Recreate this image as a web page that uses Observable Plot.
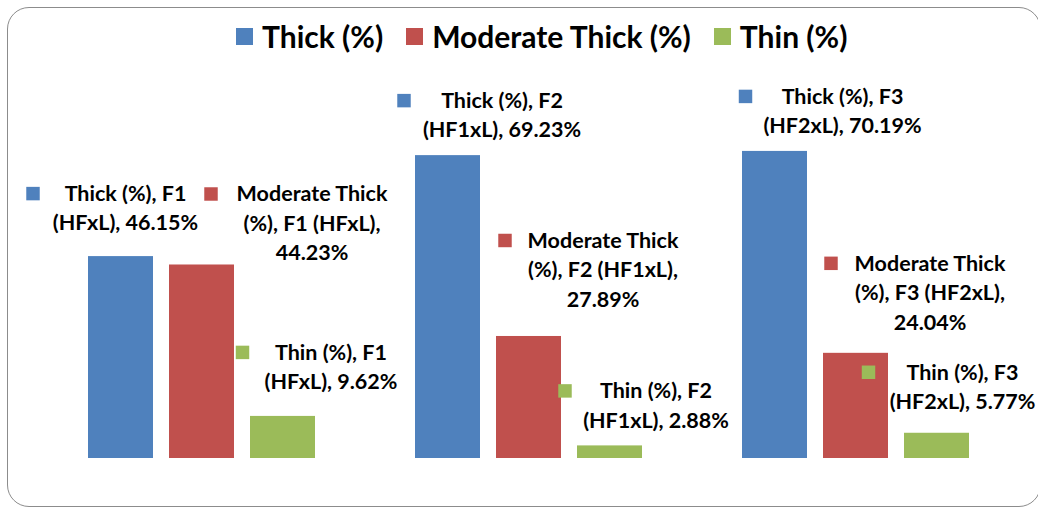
<!DOCTYPE html>
<html><head><meta charset="utf-8">
<script src="https://cdn.jsdelivr.net/npm/d3@7"></script>
<script src="https://cdn.jsdelivr.net/npm/@observablehq/plot@0.6"></script>
<style>
body{margin:0;background:#fff;}
#wrap{position:relative;width:1038px;height:508px;overflow:hidden;font-family:Lato,"Open Sans",sans-serif;}
#border{position:absolute;left:7px;top:7px;width:1034px;height:500px;border:1.5px solid #8c8c8c;border-radius:22px;box-sizing:border-box;pointer-events:none;}
#legend{height:70px;display:flex;align-items:flex-start;padding-left:236px;box-sizing:border-box;}
#legend .item{display:flex;align-items:center;margin-right:23px;margin-top:19px;font-weight:700;font-size:30px;color:#000;line-height:34px;}
#legend .sw{width:17px;height:17px;margin-right:9px;}
#chart svg{display:block;}
</style></head>
<body>
<div id="wrap">
  <div id="border"></div>
  <div id="legend"></div>
  <div id="chart"></div>
</div>
<script>
const groups = ["F1 (HFxL)", "F2 (HF1xL)", "F3 (HF2xL)"];
const series = ["Thick (%)", "Moderate Thick (%)", "Thin (%)"];
const thick = [46.15, 69.23, 70.19];
const moderate = [44.23, 27.89, 24.04];
const thin = [9.62, 2.88, 5.77];
const colors = ["#4F81BD", "#C0504D", "#9BBB59"];
// label placement (px) relative to each bar's top centre: [textDx, firstLineDy, keyDx]
const labelLayout = [
  [[4.5, -63, -88], [110, -71, 9], [48, -64, -40.5]],
  [[54, -55, -44], [74, -96, -24], [46, -55, -45]],
  [[67.5, -55, -29.5], [74, -90, -25], [25.5, -61, -68.5]]
];

const valuesBySeries = [thick, moderate, thin];
const data = [];
groups.forEach((g, gi) => series.forEach((s, si) => {
  data.push({group: g, series: s, value: valuesBySeries[si][gi], layout: labelLayout[gi][si]});
}));

function labelText(s, g, v) {
  const [code, cross] = g.split(" ");
  const val = v.toFixed(2) + "%";
  if (s.startsWith("Moderate")) return `Moderate Thick\n(%), ${code} ${cross},\n${val}`;
  return `${s}, ${code}\n${cross}, ${val}`;
}

// legend
const legend = document.getElementById("legend");
series.forEach((s, i) => {
  const it = document.createElement("div");
  it.className = "item";
  it.innerHTML = `<span class="sw" style="background:${colors[i]}"></span><span>${s}</span>`;
  legend.appendChild(it);
});

const fontSize = 21.5;
const labelMarks = [];
data.forEach(d => {
  const [tdx, tdy, kdx] = d.layout;
  labelMarks.push(Plot.text([d], {
    fx: "group", x: "series", y: "value",
    text: r => labelText(r.series, r.group, r.value),
    dx: tdx, dy: tdy - 13.5,
    lineAnchor: "top", lineHeight: 1.37, textAnchor: "middle",
    fontSize, fontWeight: "bold", fontFamily: "Lato, 'Open Sans', sans-serif", fill: "#000"
  }));
  labelMarks.push(Plot.dot([d], {
    fx: "group", x: "series", y: "value",
    dx: kdx, dy: tdy, symbol: "square", r: 7.6, fill: "series", stroke: null
  }));
});

const chart = Plot.plot({
  width: 1038, height: 438,
  marginLeft: 86, marginRight: 68, marginTop: 38, marginBottom: 50,
  fx: {domain: groups, paddingInner: 0.3, paddingOuter: 0, axis: null, label: null},
  x: {domain: series, paddingInner: 0.2, paddingOuter: 0, axis: null},
  y: {domain: [0, 80], axis: null},
  color: {domain: series, range: colors},
  style: {background: "transparent", overflow: "visible"},
  marks: [
    Plot.barY(data, {fx: "group", x: "series", y: "value", fill: "series"}),
    ...labelMarks
  ]
});
document.getElementById("chart").appendChild(chart);
</script>
</body></html>
